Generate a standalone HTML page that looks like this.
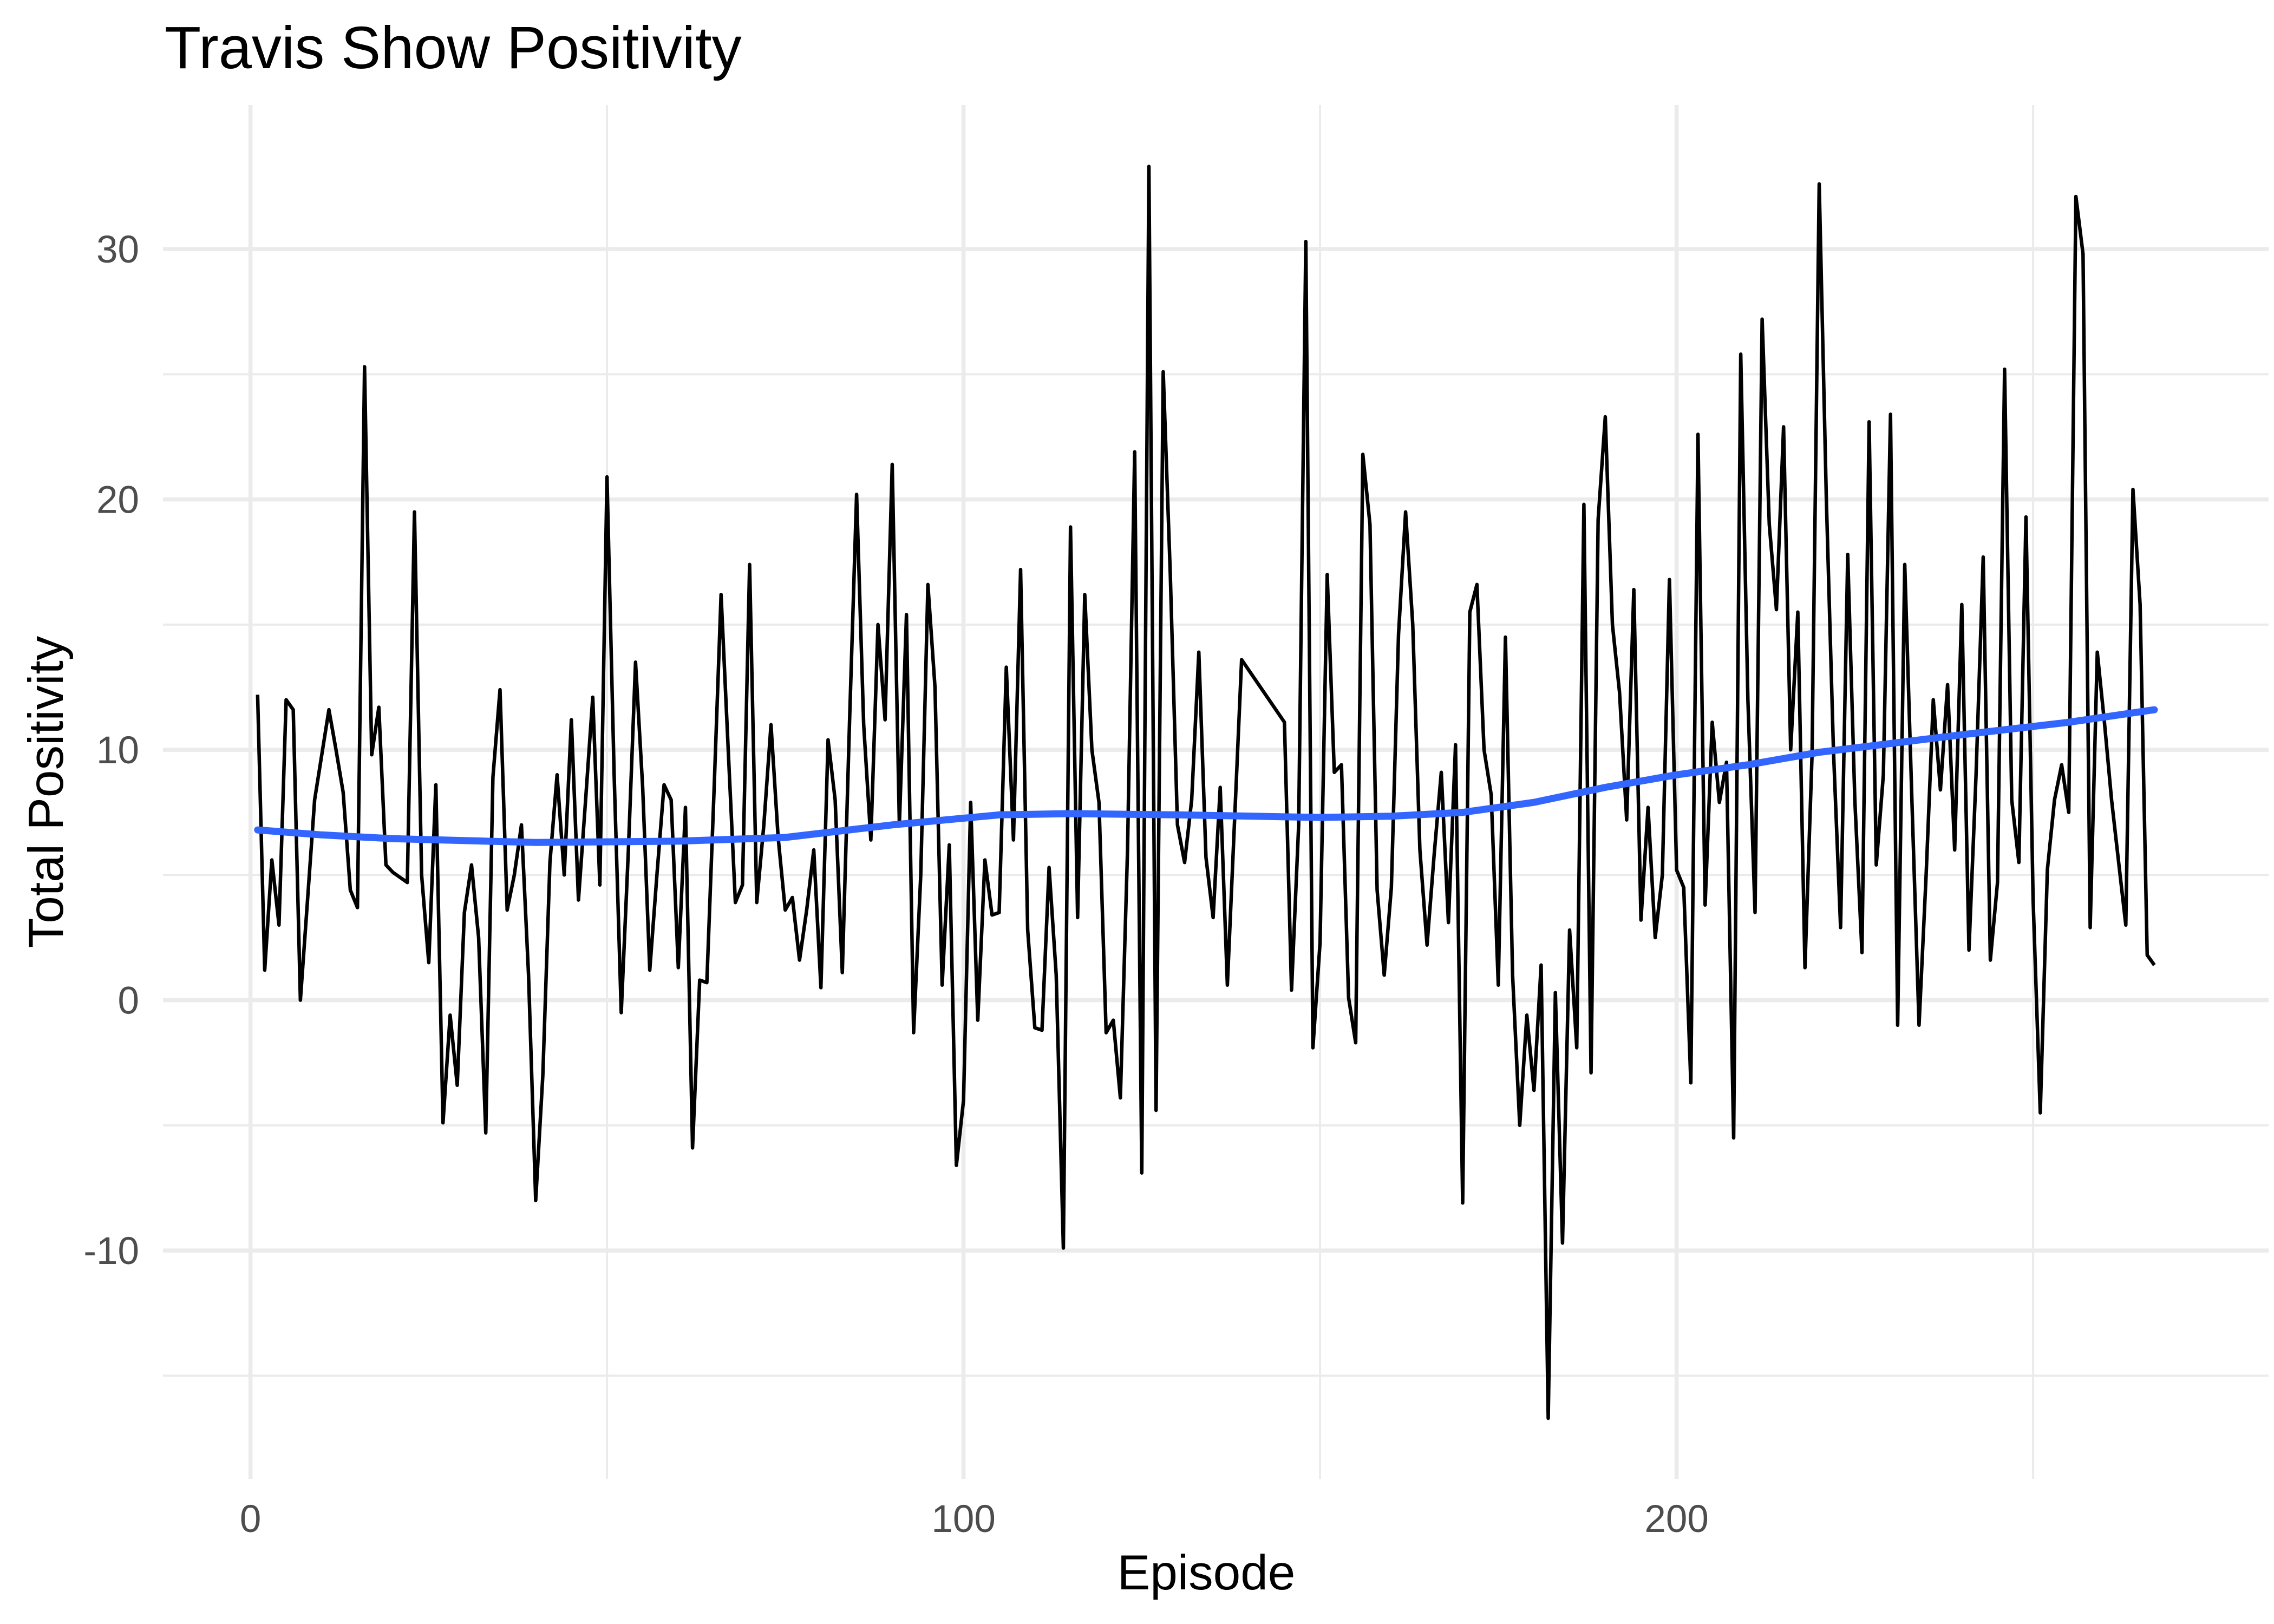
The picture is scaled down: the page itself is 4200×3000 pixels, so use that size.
<!DOCTYPE html>
<html><head><meta charset="utf-8"><style>
html,body{margin:0;padding:0;background:#fff;}
svg{display:block;font-family:"Liberation Sans",Arial,sans-serif;}
</style></head><body>
<svg id="chart" width="4200" height="3000" viewBox="0 0 4200 3000" xmlns="http://www.w3.org/2000/svg">
<rect width="4200" height="3000" fill="#fff"/>
<g id="grid"></g>
<g id="ticks"></g>
<g id="marks"></g>
<text x="304" y="126" font-size="110" fill="#000">Travis Show Positivity</text>
<text x="2228" y="2936" font-size="91" text-anchor="middle" fill="#000">Episode</text>
<text transform="translate(116,1463) rotate(-90)" font-size="91" text-anchor="middle" fill="#000">Total Positivity</text>
</svg>
<script>
const episodes=[1,2,3,4,5,6,7,8,9,10,11,12,13,14,15,16,17,18,19,20,21,22,23,24,25,26,27,28,29,30,31,32,33,34,35,36,37,38,39,40,41,42,43,44,45,46,47,48,49,50,51,52,53,54,55,56,57,58,59,60,61,62,63,64,65,66,67,68,69,70,71,72,73,74,75,76,77,78,79,80,81,82,83,84,85,86,87,88,89,90,91,92,93,94,95,96,97,98,99,100,101,102,103,104,105,106,107,108,109,110,111,112,113,114,115,116,117,118,119,120,121,122,123,124,125,126,127,128,129,130,131,132,133,134,135,136,137,139,145,146,147,148,149,150,151,152,153,154,155,156,157,158,159,160,161,162,163,164,165,166,167,168,169,170,171,172,173,174,175,176,177,178,179,180,181,182,183,184,185,186,187,188,189,190,191,192,193,194,195,196,197,198,199,200,201,202,203,204,205,206,207,208,209,210,211,212,213,214,215,216,217,218,219,220,221,222,223,224,225,226,227,228,229,230,231,232,233,234,235,236,237,238,239,240,241,242,243,244,245,246,247,248,249,250,251,252,253,254,255,256,257,258,259,260,261,262,263,264,265,266,267];
const positivity=[12.2,1.2,5.6,3.0,12.0,11.6,0.0,4.0,8.0,9.8,11.6,10,8.3,4.4,3.7,25.3,9.8,11.7,5.4,5.1,4.9,4.7,19.5,5.0,1.5,8.6,-4.9,-0.6,-3.4,3.5,5.4,2.5,-5.3,8.9,12.4,3.6,5.0,7.0,1.0,-8.0,-3.0,5.5,9.0,5.0,11.2,4.0,8.0,12.1,4.6,20.9,9.0,-0.5,6.0,13.5,8.5,1.2,5.0,8.6,8.0,1.3,7.7,-5.9,0.8,0.7,8.3,16.2,10.0,3.9,4.6,17.4,3.9,7.0,11.0,6.5,3.6,4.1,1.6,3.6,6.0,0.5,10.4,8.0,1.1,11.0,20.2,11.0,6.4,15.0,11.2,21.4,7.0,15.4,-1.3,5.0,16.6,12.5,0.6,6.2,-6.6,-4.0,7.9,-0.8,5.6,3.4,3.5,13.3,6.4,17.2,2.8,-1.1,-1.2,5.3,1.0,-9.9,18.9,3.3,16.2,10.0,7.9,-1.3,-0.8,-3.9,6.0,21.9,-6.9,33.3,-4.4,25.1,17.0,7.0,5.5,8.0,13.9,5.7,3.3,8.5,0.6,13.6,11.1,0.4,7.0,30.3,-1.9,2.3,17.0,9.1,9.4,0.1,-1.7,21.8,19.0,4.4,1.0,4.5,14.6,19.5,15.0,6.0,2.2,5.8,9.1,3.1,10.2,-8.1,15.5,16.6,10.0,8.2,0.6,14.5,1.0,-5.0,-0.6,-3.6,1.4,-16.7,0.3,-9.7,2.8,-1.9,19.8,-2.9,19.2,23.3,15.0,12.3,7.2,16.4,3.2,7.7,2.5,5.0,16.8,5.2,4.5,-3.3,22.6,3.8,11.1,7.9,9.5,-5.5,25.8,12.0,3.5,27.2,19.0,15.6,22.9,10.0,15.5,1.3,9.8,32.6,20.0,10.0,2.9,17.8,8.0,1.9,23.1,5.4,9.0,23.4,-1.0,17.4,8.0,-1.0,5.0,12.0,8.4,12.6,6.0,15.8,2.0,9.0,17.7,1.6,4.7,25.2,8.0,5.5,19.3,4.0,-4.5,5.2,8.0,9.4,7.5,32.1,29.8,2.9,13.9,11.1,8.0,5.5,3.0,20.4,15.8,1.8,1.4];
const smoothEp=[1,10,20,40,60,75,90,105,115,130,150,160,170,180,190,200,210,220,240,255,267];
const smoothVal=[6.8,6.6,6.45,6.3,6.35,6.5,7.0,7.4,7.45,7.4,7.3,7.35,7.5,7.9,8.5,9.0,9.4,9.9,10.6,11.1,11.6];
const xTicks=[0,100,200];
const xMinor=[50,150,250];
const yTicks=[-10,0,10,20,30];
const yMinor=[-15,-5,5,15,25];

const NS="http://www.w3.org/2000/svg";
const X=v=>462.6+v*13.17;
const Y=v=>1847.6-v*46.25;
const L=301,R=4190,T=194,B=2732;
function mk(tag,attrs,parent){const e=document.createElementNS(NS,tag);for(const k in attrs)e.setAttribute(k,attrs[k]);document.getElementById(parent).appendChild(e);return e;}
yMinor.forEach(v=>{const e=mk('line',{x1:L,x2:R,y1:Y(v),y2:Y(v),stroke:'#ebebeb','stroke-width':4},'grid');

});
xMinor.forEach(v=>{const e=mk('line',{x1:X(v),x2:X(v),y1:T,y2:B,stroke:'#ebebeb','stroke-width':4},'grid');

});
yTicks.forEach(v=>{const e=mk('line',{x1:L,x2:R,y1:Y(v),y2:Y(v),stroke:'#ebebeb','stroke-width':7.5},'grid');


const t=mk('text',{x:257,y:Y(v)+25,'font-size':71,'text-anchor':'end',fill:'#4d4d4d'},'ticks');t.textContent=v;

});
xTicks.forEach(v=>{const e=mk('line',{x1:X(v),x2:X(v),y1:T,y2:B,stroke:'#ebebeb','stroke-width':7.5},'grid');


const t=mk('text',{x:X(v),y:2830,'font-size':71,'text-anchor':'middle',fill:'#4d4d4d'},'ticks');t.textContent=v;

});
const pts=episodes.map((e,i)=>X(e).toFixed(1)+','+Y(positivity[i]).toFixed(1)).join(' ');
const line=mk('polyline',{points:pts,fill:'none',stroke:'#000','stroke-width':6.5,'stroke-linejoin':'round'},'marks');


const spts=smoothEp.map((e,i)=>X(e).toFixed(1)+','+Y(smoothVal[i]).toFixed(1)).join(' ');
const sm=mk('polyline',{points:spts,fill:'none',stroke:'#3366FF','stroke-width':13,'stroke-linejoin':'round','stroke-linecap':'round'},'marks');


</script>
</body></html>
